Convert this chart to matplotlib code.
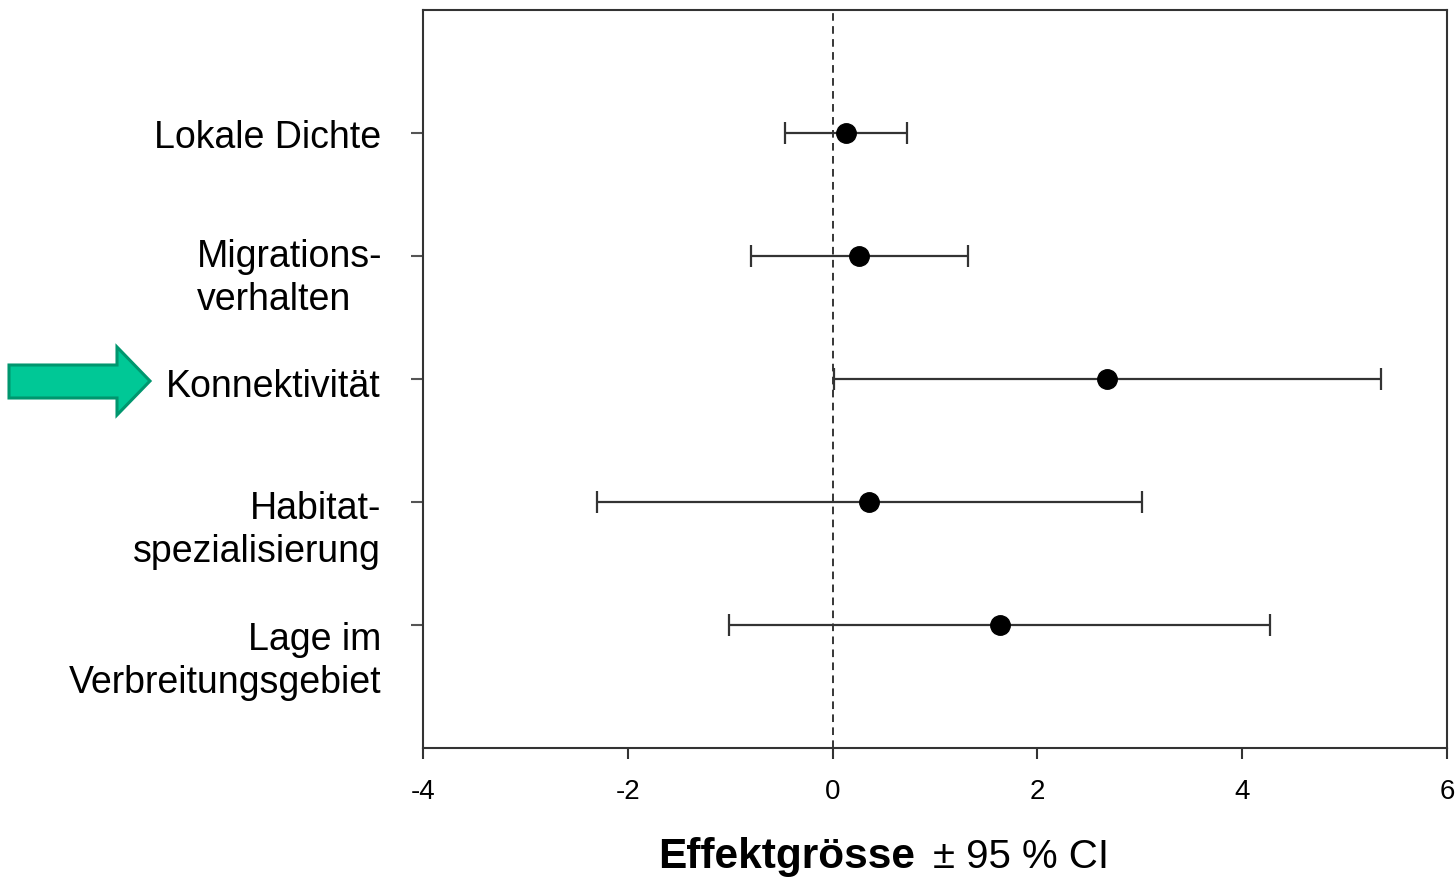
import matplotlib
matplotlib.use("Agg")
import matplotlib.pyplot as plt
from matplotlib.patches import Polygon
from matplotlib.transforms import offset_copy, blended_transform_factory
import numpy as np

# Daten
labels = ['Lokale Dichte', 'Migrations-\nverhalten', 'Konnektivität',
          'Habitat-\nspezialisierung', 'Lage im\nVerbreitungsgebiet']
effekt = [0.13, 0.26, 2.68, 0.36, 1.63]
ci_low = [-0.46, -0.80, 0.01, -2.30, -1.01]
ci_high = [0.73, 1.32, 5.36, 3.02, 4.27]
ypos = [5, 4, 3, 2, 1]
xticks = [-4, -2, 0, 2, 4, 6]

# Layout pro Label (Verschiebung nach oben in Pixel, Ausrichtung)
label_off = [13, 17, 10, 11, 3]
label_align = ['right', 'left', 'right', 'right', 'right']

fig = plt.figure(figsize=(14.56, 8.77), dpi=100)
ax = fig.add_axes([423 / 1456, 1 - 748 / 877, 1024 / 1456, 738 / 877])

effekt = np.array(effekt)
err = [effekt - np.array(ci_low), np.array(ci_high) - effekt]

ax.axvline(0, color='black', lw=1.1, ls=(0, (5, 3.5)), zorder=1)
ax.errorbar(effekt, ypos, xerr=err, fmt='o', color='black', ms=14,
            ecolor='#333333', elinewidth=1.6, capsize=8, capthick=1.6, zorder=3)

ax.set_xlim(-4, 6)
ax.set_ylim(0, 6)
ax.set_xticks(xticks)
ax.set_xticklabels([str(t) for t in xticks],
                   family=['Liberation Sans Narrow', 'Liberation Sans'], fontsize=20)
ax.set_yticks(ypos)
ax.set_yticklabels([])
ax.tick_params(axis='x', length=8, width=1.5, color='#333333', pad=14)
ax.tick_params(axis='y', length=8.5, width=1.5, color='#555555')
for sp in ax.spines.values():
    sp.set_linewidth(1.5)
    sp.set_color('#333333')

# Y-Beschriftungen als eigene Texte
trans = blended_transform_factory(fig.transFigure, ax.transData)
for lab, y, off, al in zip(labels, ypos, label_off, label_align):
    t = offset_copy(trans, fig=fig, x=0, y=off * 0.72, units='points')
    if al == 'left':
        ax.text(197 / 1456, y, lab, transform=t, ha='left', va='top', linespacing=1.25,
                fontsize=27, family='Liberation Sans', multialignment='left')
    else:
        ax.text(381 / 1456, y, lab, transform=t, ha='right', va='top', linespacing=1.25,
                fontsize=27, family='Liberation Sans', multialignment='right')

# Achsentitel
fig.text(915 / 1456, 1 - 868 / 877, 'Effektgrösse', ha='right', va='baseline',
         fontsize=30.5, fontweight='bold', family='Liberation Sans')
fig.text(933 / 1456, 1 - 868 / 877, '± 95 % CI', ha='left', va='baseline',
         fontsize=29, family='Liberation Sans')

# gruener Pfeil
pts = [(9, 365), (117, 365), (117, 347), (150, 381), (117, 415), (117, 398), (9, 398)]
pts = [(px / 1456, 1 - py / 877) for px, py in pts]
fig.patches.append(Polygon(pts, closed=True, transform=fig.transFigure,
                           facecolor='#00C896', edgecolor='#00966E', lw=2.2))

fig.savefig('out.png', dpi=100)
